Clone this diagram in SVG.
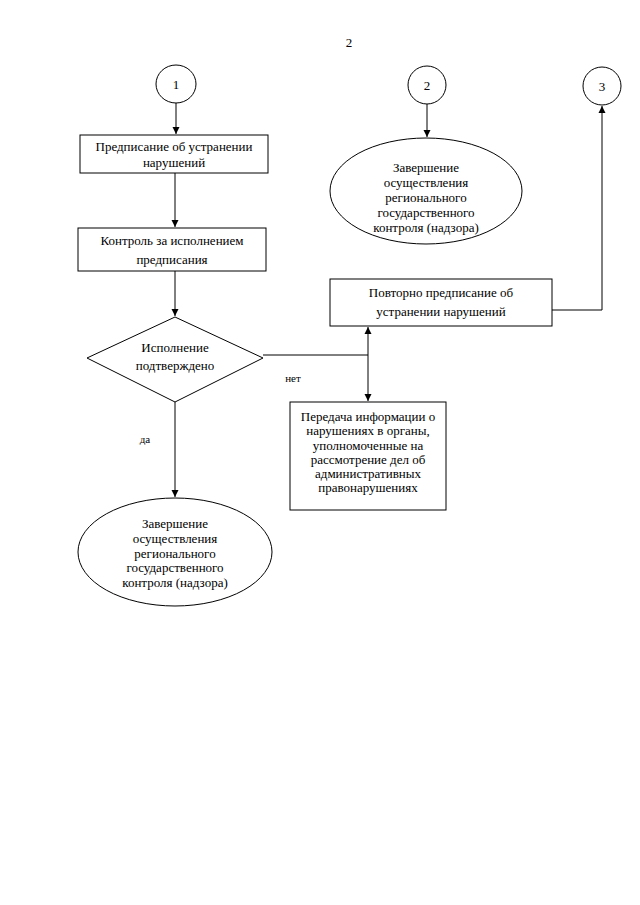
<svg xmlns="http://www.w3.org/2000/svg" width="640" height="905" viewBox="0 0 640 905">
<style>
text{font-family:"Liberation Serif","Times New Roman",serif;font-size:13px;fill:#000;text-anchor:middle}
.s{fill:#fff;stroke:#000;stroke-width:1}
.c{fill:none;stroke:#000;stroke-width:1}
.sm{font-size:11px}
</style>
<defs>
<marker id="a" markerWidth="8" markerHeight="8" refX="7" refY="4" orient="auto" markerUnits="userSpaceOnUse">
<path d="M0,0.5 L7,4 L0,7.5 Z" fill="#000"/>
</marker>
</defs>
<rect width="640" height="905" fill="#fff"/>
<text x="349" y="47">2</text>
<g id="c1"><ellipse class="s" cx="176" cy="84" rx="20" ry="19"/><text x="176" y="89">1</text></g>
<g id="c2"><ellipse class="s" cx="427" cy="85" rx="19" ry="19"/><text x="427" y="90">2</text></g>
<g id="c3"><ellipse class="s" cx="602" cy="86" rx="19" ry="19"/><text x="602" y="91">3</text></g>
<g id="r1"><rect class="s" x="80" y="135" width="188" height="38"/><text x="174" y="151">Предписание об устранении</text><text x="174" y="167">нарушений</text></g>
<g id="r2"><rect class="s" x="78" y="228" width="188" height="43"/><text x="172" y="245">Контроль за исполнением</text><text x="172" y="264">предписания</text></g>
<g id="d1"><polygon class="s" points="175,317 263,358 175,402 87,358"/><text x="175" y="352">Исполнение</text><text x="175" y="370">подтверждено</text></g>
<g id="e2"><ellipse class="s" cx="426" cy="191" rx="96" ry="53"/>
<text x="426" y="172">Завершение</text><text x="426" y="187">осуществления</text><text x="426" y="202">регионального</text><text x="426" y="217">государственного</text><text x="426" y="232">контроля (надзора)</text></g>
<g id="r3"><rect class="s" x="330" y="279" width="222" height="47"/><text x="441" y="297">Повторно предписание об</text><text x="441" y="316">устранении нарушений</text></g>
<g id="r4"><rect class="s" x="290" y="402" width="156" height="108"/>
<text x="368" y="421">Передача информации о</text><text x="368" y="435">нарушениях в органы,</text><text x="368" y="450">уполномоченные на</text><text x="368" y="464">рассмотрение дел об</text><text x="368" y="478">административных</text><text x="368" y="492">правонарушениях</text></g>
<g id="e1"><ellipse class="s" cx="175" cy="552" rx="97" ry="54"/>
<text x="175" y="528">Завершение</text><text x="175" y="543">осуществления</text><text x="175" y="558">регионального</text><text x="175" y="572">государственного</text><text x="175" y="587">контроля (надзора)</text></g>
<g id="connectors">
<line class="c" x1="176" y1="103" x2="176" y2="134" marker-end="url(#a)"/>
<line class="c" x1="175" y1="173" x2="175" y2="227" marker-end="url(#a)"/>
<line class="c" x1="175" y1="271" x2="175" y2="316" marker-end="url(#a)"/>
<line class="c" x1="427" y1="104" x2="427" y2="137" marker-end="url(#a)"/>
<polyline class="c" points="263,355 368,355"/>
<line class="c" x1="368" y1="355" x2="368" y2="327" marker-end="url(#a)"/>
<line class="c" x1="368" y1="355" x2="368" y2="401" marker-end="url(#a)"/>
<polyline class="c" points="552,310 602,310 602,106" marker-end="url(#a)"/>
<line class="c" x1="175" y1="402" x2="175" y2="497" marker-end="url(#a)"/>
<text class="sm" x="293" y="382">нет</text>
<text class="sm" x="145" y="443">да</text>
</g>
</svg>
